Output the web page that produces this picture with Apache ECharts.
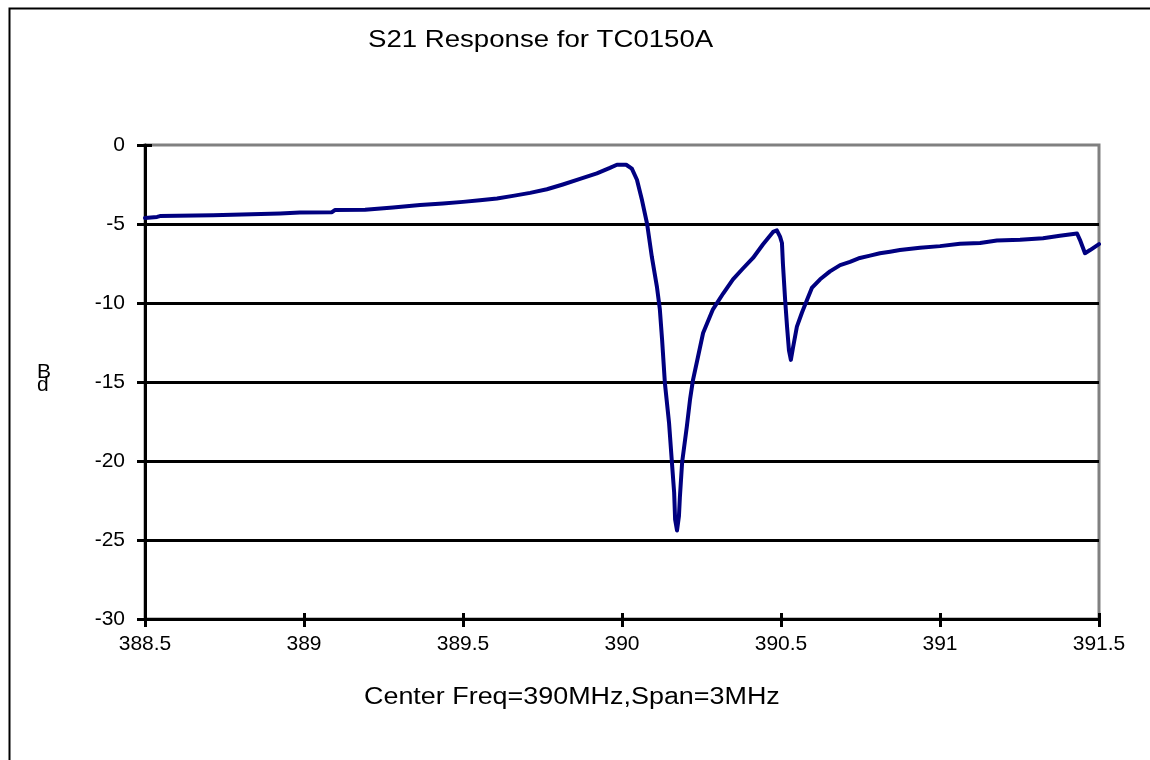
<!DOCTYPE html>
<html>
<head>
<meta charset="utf-8">
<script src="https://cdn.jsdelivr.net/npm/echarts@6/dist/echarts.min.js"></script>
<style>
html,body{margin:0;padding:0;background:#fff;}
#chart{width:1150px;height:760px;}
</style>
</head>
<body>
<div id="chart"></div>
<script>
var chartTitle = 'S21 Response for TC0150A';
var xAxisTitle = 'Center Freq=390MHz,Span=3MHz';
var yAxisTitle = 'B\nd';

var freqMHz = [
  388.500, 388.538, 388.547, 388.714, 388.720, 388.925, 388.987, 389.088, 389.097, 389.192,
  389.198, 389.280, 389.286, 389.365, 389.437, 389.500, 389.553, 389.607, 389.657, 389.711,
  389.764, 389.814, 389.868, 389.921, 389.962, 389.984, 390.013, 390.031, 390.047, 390.063,
  390.079, 390.094, 390.110, 390.119, 390.126, 390.135, 390.148, 390.157, 390.164, 390.167,
  390.173, 390.179, 390.182, 390.189, 390.204, 390.214, 390.223, 390.239, 390.255, 390.286,
  390.318, 390.349, 390.381, 390.412, 390.443, 390.475, 390.487, 390.497, 390.503, 390.506,
  390.513, 390.519, 390.525, 390.531, 390.538, 390.550, 390.566, 390.582, 390.597, 390.623,
  390.654, 390.686, 390.717, 390.748, 390.780, 390.811, 390.843, 390.874, 390.937, 391.000,
  391.063, 391.126, 391.179, 391.252, 391.324, 391.377, 391.431, 391.440, 391.456, 391.472,
  391.500
];
var s21dB = [
  -4.62, -4.55, -4.50, -4.45, -4.37, -4.33, -4.27, -4.25, -4.12, -4.10,
  -4.00, -3.95, -3.85, -3.80, -3.70, -3.60, -3.50, -3.38, -3.22, -3.03,
  -2.80, -2.50, -2.15, -1.80, -1.45, -1.25, -1.25, -1.50, -2.20, -3.50,
  -5.00, -7.10, -9.00, -10.4, -12.3, -15.1, -17.6, -20.1, -22.0, -23.7,
  -24.4, -23.5, -22.3, -20.1, -17.8, -16.1, -14.9, -13.4, -11.9, -10.4,
  -9.40, -8.50, -7.80, -7.15, -6.30, -5.50, -5.40, -5.80, -6.20, -7.50,
  -9.80, -11.5, -13.0, -13.6, -12.8, -11.5, -10.6, -9.80, -9.05, -8.50,
  -8.00, -7.60, -7.40, -7.15, -7.00, -6.85, -6.75, -6.65, -6.50, -6.40,
  -6.25, -6.20, -6.05, -6.00, -5.90, -5.75, -5.60, -6.00, -6.85, -6.65,
  -6.27
];

var seriesData = freqMHz.map(function (f, i) { return [f, s21dB[i]]; });

var FONT = '"Liberation Sans", Arial, sans-serif';
var chart = echarts.init(document.getElementById('chart'), null, {renderer: 'canvas'});

var xCommon = {
  type: 'value', min: 388.5, max: 391.5, interval: 0.5,
  splitLine: {show: false}
};
var yCommon = {
  type: 'value', min: -30, max: 0, interval: 5
};

chart.setOption({
  animation: false,
  backgroundColor: '#ffffff',
  grid: {
    left: 145, right: 51, top: 145, bottom: 141,
    show: true, borderColor: '#808080', borderWidth: 3, backgroundColor: 'transparent'
  },
  graphic: [
    {type: 'rect', left: 7, top: 6, z: -10, silent: true,
     shape: {x: 0, y: 0, width: 1170, height: 780},
     style: {fill: 'none', stroke: '#000', lineWidth: 2}},
    {type: 'text', x: 368, y: 28, scaleX: 1.15, silent: true,
     style: {text: chartTitle, font: '24px ' + FONT, fill: '#000'}},
    {type: 'text', x: 364, y: 686, scaleX: 1.17, silent: true,
     style: {text: xAxisTitle, font: '23px ' + FONT, fill: '#000'}},
    {type: 'text', x: 37, y: 366, silent: true,
     style: {text: yAxisTitle, font: '21px ' + FONT, fill: '#000', lineHeight: 13}}
  ],
  xAxis: [
    Object.assign({}, xCommon, {
      position: 'bottom',
      axisLine: {show: true, onZero: false, lineStyle: {color: '#000', width: 3}},
      axisTick: {show: true, inside: false, length: 8, lineStyle: {color: '#000', width: 3}},
      axisLabel: {show: true, margin: 15, color: '#000', fontSize: 21, fontFamily: FONT}
    }),
    Object.assign({}, xCommon, {
      position: 'bottom',
      axisLine: {show: false, onZero: false},
      axisTick: {show: true, inside: true, length: 6, lineStyle: {color: '#000', width: 3}},
      axisLabel: {show: false}
    })
  ],
  yAxis: [
    Object.assign({}, yCommon, {
      position: 'left',
      axisLine: {show: true, onZero: false, lineStyle: {color: '#000', width: 3}},
      axisTick: {show: true, inside: false, length: 8, lineStyle: {color: '#000', width: 3}},
      axisLabel: {show: true, margin: 20, color: '#000', fontSize: 21, fontFamily: FONT},
      splitLine: {show: true, showMinLine: false, showMaxLine: false,
                  lineStyle: {color: '#000', width: 3}}
    }),
    Object.assign({}, yCommon, {
      position: 'left',
      axisLine: {show: false, onZero: false},
      axisTick: {show: true, inside: true, length: 7, lineStyle: {color: '#000', width: 3}},
      axisLabel: {show: false},
      splitLine: {show: false}
    })
  ],
  series: [{
    type: 'line',
    xAxisIndex: 0, yAxisIndex: 0,
    data: seriesData,
    showSymbol: false,
    symbol: 'none',
    smooth: false,
    clip: true,
    lineStyle: {color: '#000080', width: 4, join: 'round', cap: 'round'},
    z: 5
  }]
});
</script>
</body>
</html>
